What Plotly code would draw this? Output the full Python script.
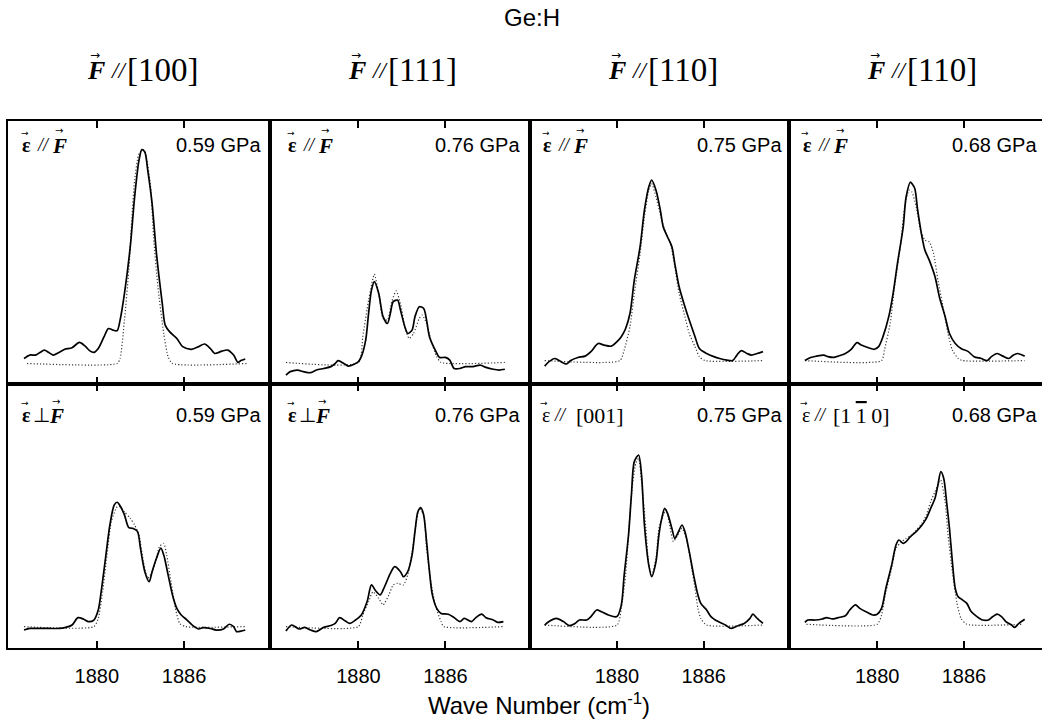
import plotly.graph_objects as go

# ---------------- data (wave number in cm^-1, absorbance in arbitrary units) ----------------
col_titles = ["[100]", "[111]", "[110]", "[110]"]
pressures = ["0.59 GPa", "0.76 GPa", "0.75 GPa", "0.68 GPa"]
tick_vals = [1880, 1886]
tick_text = ["1880", "1886"]

# top row: eps // F
p1_x = [1875.0,1875.4,1875.8,1876.1,1876.4,1876.7,1877.0,1877.4,1877.8,1878.3,1878.8,1879.2,1879.5,1879.8,1880.1,1880.5,1880.8,1881.1,1881.4,1881.6,1881.9,1882.3,1882.6,1882.9,1883.1,1883.3,1883.5,1883.8,1884.1,1884.5,1884.7,1885.0,1885.5,1885.9,1886.5,1887.0,1887.4,1887.8,1888.1,1888.6,1889.0,1889.4,1889.7,1889.9,1890.2]
p1_y = [9.7,11.0,11.0,12.0,12.9,12.0,11.0,12.0,13.2,13.8,15.8,14.4,12.7,12.0,13.5,18.0,21.1,20.5,20.3,24.3,34.4,52.2,71.1,85.1,89.1,88.2,81.3,68.6,49.6,30.6,22.4,19.9,17.3,14.2,13.2,14.2,15.2,13.5,11.6,12.5,12.9,11.0,8.2,8.9,9.5]
p1_fx = [1875.2,1881.4,1881.6,1881.9,1882.2,1882.4,1882.6,1882.9,1883.2,1883.4,1883.7,1883.9,1884.2,1884.6,1884.9,1885.2,1890.3]
p1_fy = [7.8,7.8,9.7,24.3,43.3,62.3,77.5,87.6,89.1,86.3,74.9,55.9,37.0,19.2,10.4,7.8,7.8]

p2_x = [1875.0,1875.3,1875.8,1876.2,1876.7,1877.1,1877.6,1878.1,1878.4,1878.6,1879.0,1879.3,1879.7,1880.0,1880.2,1880.5,1880.7,1880.9,1881.1,1881.4,1881.7,1882.0,1882.2,1882.4,1882.7,1882.9,1883.2,1883.4,1883.7,1883.9,1884.2,1884.5,1884.7,1884.9,1885.3,1885.6,1886.0,1886.3,1886.6,1887.0,1887.4,1887.9,1888.4,1888.8,1889.3,1889.7,1890.1]
p2_y = [3.4,4.7,5.3,4.7,4.3,5.3,5.9,6.6,7.8,8.9,7.8,6.8,7.5,8.5,10.4,16.7,26.8,35.7,38.9,34.4,25.6,23.0,26.8,31.3,31.9,28.1,21.8,19.2,20.5,25.6,29.4,28.7,24.3,18.0,12.9,10.1,10.1,9.1,5.9,5.9,6.6,6.6,7.2,6.3,5.6,5.3,5.6]
p2_fx = [1875.0,1880.0,1880.3,1880.7,1881.0,1881.1,1881.4,1881.7,1882.0,1882.3,1882.6,1882.9,1883.2,1883.5,1883.8,1884.2,1884.4,1884.7,1885.0,1885.4,1885.7,1890.1]
p2_fy = [8.2,8.2,18.0,31.9,40.1,41.8,34.4,24.9,24.3,31.3,35.4,30.6,21.8,17.3,19.2,24.9,26.2,23.0,16.7,10.4,8.2,8.2]

p3_x = [1875.0,1875.3,1875.7,1876.0,1876.5,1876.8,1877.3,1877.8,1878.2,1878.7,1879.1,1879.6,1880.0,1880.3,1880.6,1880.9,1881.2,1881.6,1881.9,1882.2,1882.4,1882.7,1883.0,1883.2,1883.5,1883.8,1884.0,1884.3,1884.7,1885.0,1885.4,1885.7,1886.2,1886.7,1887.1,1887.6,1888.0,1888.3,1888.6,1889.0,1889.3,1889.7,1890.1]
p3_y = [6.8,8.5,9.7,8.9,7.6,8.9,10.1,10.6,12.3,15.4,14.8,14.4,16.1,18.0,21.1,26.8,39.5,52.2,66.1,74.9,77.5,73.7,66.1,59.7,55.9,52.2,45.8,37.0,29.4,24.3,18.0,13.5,11.6,10.4,9.7,9.1,8.9,11.0,12.7,11.6,11.0,11.6,12.3]
p3_fx = [1875.0,1880.2,1880.5,1880.9,1881.2,1881.6,1881.9,1882.2,1882.4,1882.7,1883.1,1883.4,1883.7,1884.0,1884.3,1884.7,1885.0,1885.4,1885.7,1886.1,1890.1]
p3_fy = [8.9,8.9,12.9,21.8,34.4,49.6,63.5,73.7,76.2,71.1,62.3,57.2,53.4,44.6,34.4,25.6,19.2,14.2,10.4,8.9,8.9]

p4_x = [1875.0,1875.4,1875.8,1876.3,1876.6,1877.0,1877.3,1877.8,1878.2,1878.6,1878.9,1879.4,1879.8,1880.1,1880.4,1880.8,1881.1,1881.4,1881.8,1882.0,1882.3,1882.4,1882.6,1882.8,1883.1,1883.3,1883.6,1884.0,1884.3,1884.7,1885.0,1885.4,1885.8,1886.3,1886.7,1887.2,1887.6,1887.9,1888.3,1888.7,1889.1,1889.4,1889.7,1890.2]
p4_y = [8.9,10.1,10.6,11.0,10.4,10.1,10.6,11.6,13.2,15.7,14.8,13.8,13.2,14.2,18.0,25.6,34.4,45.8,59.7,71.1,76.8,76.2,74.3,66.1,55.9,50.9,47.1,40.8,33.2,25.6,19.2,15.4,13.5,12.3,10.4,9.7,8.9,10.4,11.6,10.6,9.7,10.9,11.6,10.6]
p4_fx = [1875.0,1880.3,1880.5,1880.9,1881.2,1881.6,1881.9,1882.2,1882.4,1882.7,1883.0,1883.3,1883.6,1883.9,1884.2,1884.6,1884.9,1885.2,1885.6,1885.9,1890.2]
p4_fy = [8.9,8.9,12.9,23.0,37.0,52.2,67.3,73.7,73.0,67.3,58.5,54.7,54.1,49.6,39.5,28.1,19.2,12.9,9.7,8.9,8.9]

# bottom row
p5_x = [1875.0,1875.4,1875.9,1876.3,1876.8,1877.4,1877.8,1878.3,1878.7,1879.1,1879.4,1879.8,1880.1,1880.3,1880.6,1880.9,1881.2,1881.4,1881.6,1881.9,1882.2,1882.5,1882.8,1883.0,1883.3,1883.6,1883.8,1884.1,1884.4,1884.6,1884.9,1885.2,1885.5,1885.8,1886.2,1886.6,1887.0,1887.3,1887.8,1888.2,1888.7,1889.1,1889.4,1889.6,1889.9,1890.2]
p5_y = [6.8,7.4,7.4,7.4,7.4,7.4,7.7,8.7,11.5,10.9,10.0,10.6,14.4,21.3,34.0,46.6,54.2,55.2,53.9,50.4,45.6,45.3,44.1,37.8,28.9,25.1,28.9,34.0,37.8,35.2,27.7,20.1,15.0,12.5,10.6,8.5,7.2,7.7,7.4,6.8,7.2,9.0,8.1,6.2,6.4,6.8]
p5_fx = [1875.0,1879.8,1880.1,1880.4,1880.7,1881.0,1881.4,1881.6,1881.9,1882.3,1882.6,1882.9,1883.2,1883.5,1883.8,1884.1,1884.3,1884.6,1884.8,1885.1,1885.4,1885.7,1886.1,1890.2]
p5_fy = [8.1,8.1,11.2,21.3,35.2,47.9,53.5,53.5,51.6,49.1,46.6,42.8,32.7,26.4,28.9,34.0,38.4,39.6,35.2,25.1,15.0,9.3,8.1,8.1]

p6_x = [1875.0,1875.4,1875.9,1876.3,1876.7,1877.1,1877.6,1878.1,1878.4,1878.7,1879.1,1879.4,1879.8,1880.2,1880.6,1880.9,1881.2,1881.5,1881.8,1882.2,1882.5,1882.9,1883.1,1883.4,1883.7,1883.9,1884.1,1884.3,1884.5,1884.7,1884.9,1885.1,1885.4,1885.7,1886.2,1886.6,1887.0,1887.3,1887.8,1888.1,1888.5,1888.8,1889.3,1889.6,1890.0]
p6_y = [6.4,8.7,7.2,7.8,6.8,6.2,7.8,8.5,9.3,11.5,10.2,9.3,10.6,12.5,17.6,23.9,21.6,20.1,23.2,28.3,30.8,28.9,27.0,28.9,35.2,44.1,51.6,53.2,50.4,40.3,28.9,20.1,15.0,13.1,12.8,11.5,10.0,11.2,10.0,11.5,12.8,11.5,10.6,9.7,10.0]
p6_fx = [1875.0,1880.0,1880.3,1880.7,1881.0,1881.4,1881.7,1882.1,1882.4,1882.7,1883.1,1883.4,1883.7,1884.0,1884.2,1884.5,1884.7,1885.0,1885.3,1885.7,1885.9,1890.0]
p6_fy = [8.1,8.1,12.5,17.6,21.3,18.8,16.3,20.1,23.9,24.5,23.9,27.7,36.5,47.9,52.9,50.4,37.8,25.1,16.3,10.0,8.1,8.1]

p7_x = [1875.0,1875.3,1875.8,1876.3,1876.7,1877.1,1877.4,1877.9,1878.2,1878.6,1878.9,1879.4,1880.0,1880.3,1880.5,1880.8,1881.0,1881.2,1881.5,1881.7,1881.9,1882.2,1882.4,1882.7,1882.9,1883.1,1883.3,1883.5,1883.8,1884.0,1884.2,1884.5,1884.7,1885.0,1885.3,1885.6,1885.8,1886.2,1886.5,1887.0,1887.5,1887.9,1888.4,1888.8,1889.2,1889.4,1889.7,1890.1]
p7_y = [8.7,10.0,11.2,10.0,8.5,9.3,10.6,10.6,11.9,14.4,13.8,12.5,11.9,16.3,27.7,42.8,58.0,70.6,73.1,65.5,46.6,31.4,27.0,32.7,42.8,49.1,52.9,51.0,45.3,41.5,43.4,46.6,44.1,36.5,27.7,20.1,16.9,14.4,11.9,10.0,8.7,7.4,8.5,9.3,11.2,12.8,11.2,9.3]
p7_fx = [1875.0,1880.0,1880.3,1880.6,1880.8,1881.0,1881.3,1881.5,1881.7,1882.0,1882.2,1882.4,1882.7,1882.9,1883.2,1883.4,1883.6,1883.9,1884.2,1884.5,1884.8,1885.1,1885.4,1885.6,1885.8,1886.2,1890.1]
p7_fy = [8.7,8.7,15.0,27.7,42.8,58.0,69.9,71.8,63.0,45.3,31.4,27.7,34.0,45.3,50.4,52.3,47.9,40.3,42.8,45.3,41.5,32.7,22.6,15.0,11.2,8.7,8.7]

p8_x = [1875.0,1875.2,1875.7,1876.2,1876.5,1876.9,1877.3,1877.8,1878.1,1878.5,1878.8,1879.3,1879.7,1880.0,1880.3,1880.6,1881.0,1881.3,1881.5,1881.8,1882.0,1882.3,1882.7,1883.1,1883.4,1883.7,1884.0,1884.2,1884.4,1884.6,1884.8,1885.0,1885.2,1885.4,1885.6,1885.8,1886.2,1886.5,1886.9,1887.3,1887.7,1888.0,1888.3,1888.6,1888.9,1889.3,1889.5,1889.8,1890.2]
p8_y = [9.7,10.6,10.6,11.0,11.5,11.0,11.5,12.2,14.4,16.3,15.0,13.5,12.5,12.8,15.0,22.6,31.4,39.0,40.9,39.6,40.3,42.2,44.1,46.6,49.1,52.9,56.7,61.7,66.8,64.3,55.4,45.3,32.7,22.6,19.4,18.6,16.9,13.8,11.9,10.6,10.6,11.9,12.8,11.9,10.0,8.7,7.8,9.3,10.9]
p8_fx = [1875.1,1880.0,1880.3,1880.6,1881.0,1881.3,1881.7,1882.0,1882.4,1882.7,1883.1,1883.4,1883.7,1884.0,1884.3,1884.4,1884.7,1884.9,1885.2,1885.5,1885.8,1886.2,1890.1]
p8_fy = [9.0,9.0,12.5,21.3,30.2,37.8,40.3,41.5,42.8,44.7,47.2,50.4,55.4,59.2,63.0,63.6,55.4,42.8,28.9,17.6,11.2,9.0,9.0]

panels = [
    (p1_x, p1_y, p1_fx, p1_fy), (p2_x, p2_y, p2_fx, p2_fy),
    (p3_x, p3_y, p3_fx, p3_fy), (p4_x, p4_y, p4_fx, p4_fy),
    (p5_x, p5_y, p5_fx, p5_fy), (p6_x, p6_y, p6_fx, p6_fy),
    (p7_x, p7_y, p7_fx, p7_fy), (p8_x, p8_y, p8_fx, p8_fy),
]

# ---------------- layout geometry ----------------
W, H = 1042, 721
ML, MR, MT, MB = 8, 0, 121, 73
PW = W - ML - MR
PH = H - MT - MB
col_px = [(8, 270), (270, 529.5), (529.5, 789), (789, 1042)]
x_ranges = [[1873.9, 1891.9], [1873.9, 1891.8], [1873.95, 1891.9], [1873.9, 1891.4]]
row_dom = [[264 / PH, 1.0], [0.0, 264 / PH]]

SERIF = "Liberation Serif"
SANS = "Liberation Sans"
ARROWF = "DejaVu Sans"


def px(X):
    return (X - ML) / PW


def py(Y):
    return (H - MB - Y) / PH


annotations = []


def txt(X, Y, text, size, family=SERIF, anchor="left"):
    annotations.append(dict(text=text, xref="paper", yref="paper", x=px(X), y=py(Y),
                            xanchor=anchor, yanchor="middle", showarrow=False,
                            font=dict(family=family, size=size, color="black")))


fig = go.Figure()
layout = dict(
    width=W, height=H,
    margin=dict(l=ML, r=MR, t=MT, b=MB),
    paper_bgcolor="white", plot_bgcolor="white",
    showlegend=False,
)

for k, (sx, sy, fx, fy) in enumerate(panels):
    n = k + 1
    row = 0 if k < 4 else 1
    col = k % 4
    xa = "x" if n == 1 else f"x{n}"
    ya = "y" if n == 1 else f"y{n}"
    fig.add_trace(go.Scatter(x=fx, y=fy, mode="lines", xaxis=xa, yaxis=ya,
                             line=dict(color="#3a3a3a", width=1.2, dash="1.2px,2px",
                                       shape="spline", smoothing=0.6),
                             hoverinfo="skip"))
    fig.add_trace(go.Scatter(x=sx, y=sy, mode="lines", xaxis=xa, yaxis=ya,
                             line=dict(color="black", width=1.7,
                                       shape="spline", smoothing=0.8),
                             hoverinfo="skip"))
    x0, x1 = col_px[col]
    dom = [(x0 - ML) / PW, min(1.0, (x1 - ML) / PW)]
    xkey = "xaxis" if n == 1 else f"xaxis{n}"
    ykey = "yaxis" if n == 1 else f"yaxis{n}"
    layout[xkey] = dict(
        domain=dom, anchor=ya, range=x_ranges[col],
        tickvals=tick_vals, ticktext=tick_text,
        ticks="inside", ticklen=7, tickwidth=1.5, tickcolor="black",
        showline=True, linecolor="black", linewidth=2, mirror="ticks",
        showgrid=False, zeroline=False,
        showticklabels=(row == 1), ticklabelstandoff=9,
        tickfont=dict(family=SANS, size=20, color="black"),
    )
    layout[ykey] = dict(
        domain=row_dom[row], anchor=xa, range=[0, 100],
        showline=True, linecolor="black", linewidth=2,
        mirror=(col != 3), ticks="", showticklabels=False,
        showgrid=False, zeroline=False,
    )

# ---------------- panel labels ----------------
lefts = [8.5, 270, 529.5, 789]
rights = [263, 522, 784, 1039]
ARR = "→"
for col in range(4):
    # top row: eps // F
    base = lefts[col] + (16 if col == 1 else 11.5)
    yc = 145
    txt(base, yc, "<b>ε</b>", 20)
    txt(base + 15, yc, "<i>//</i>", 18)
    txt(base + 30, yc + 1, "<b><i>F</i></b>", 21)
    txt(base + 4.5, yc - 12, ARR, 9, ARROWF, "center")
    txt(base + 39, yc - 14, ARR, 10, ARROWF, "center")
    txt(rights[col], yc, pressures[col], 20, SANS, "right")

    # bottom row
    yc = 415
    if col < 2:
        base = lefts[col] + (16 if col == 1 else 11.5)
        txt(base, yc, "<b>ε</b>", 20)
        txt(base + 11, yc, "⊥", 20)
        txt(base + 27, yc + 1, "<b><i>F</i></b>", 21)
        txt(base + 4.5, yc - 12, ARR, 9, ARROWF, "center")
        txt(base + 36, yc - 14, ARR, 10, ARROWF, "center")
    else:
        base = lefts[col] + 10.5
        txt(base, yc, "ε", 20)
        txt(base + 12, yc, "<i>//</i>", 18)
        txt(base + 4, yc - 12, ARR, 9, ARROWF, "center")
        if col == 2:
            txt(base + 34, yc, "[001]", 22)
        else:
            txt(base + 31, yc, "[1\u2009<span style='text-decoration:overline'>1</span>\u20090]", 22)
    txt(rights[col], yc, pressures[col], 20, SANS, "right")

    # column title: F // [hkl]
    base = lefts[col] + 76
    yt = 70
    txt(base, yt, "<b><i>F</i></b>", 26)
    txt(base + 23, yt, "<i>//</i>", 23)
    txt(base + 40, yt, col_titles[col], 33)
    txt(base + 10, yt - 15, ARR, 12, ARROWF, "center")

txt(532, 18, "Ge:H", 24, SANS, "center")
txt(539, 704, "Wave Number (cm<sup>-1</sup>)", 24, SANS, "center")

layout["annotations"] = annotations
fig.update_layout(**layout)
fig.write_html("out.html")
